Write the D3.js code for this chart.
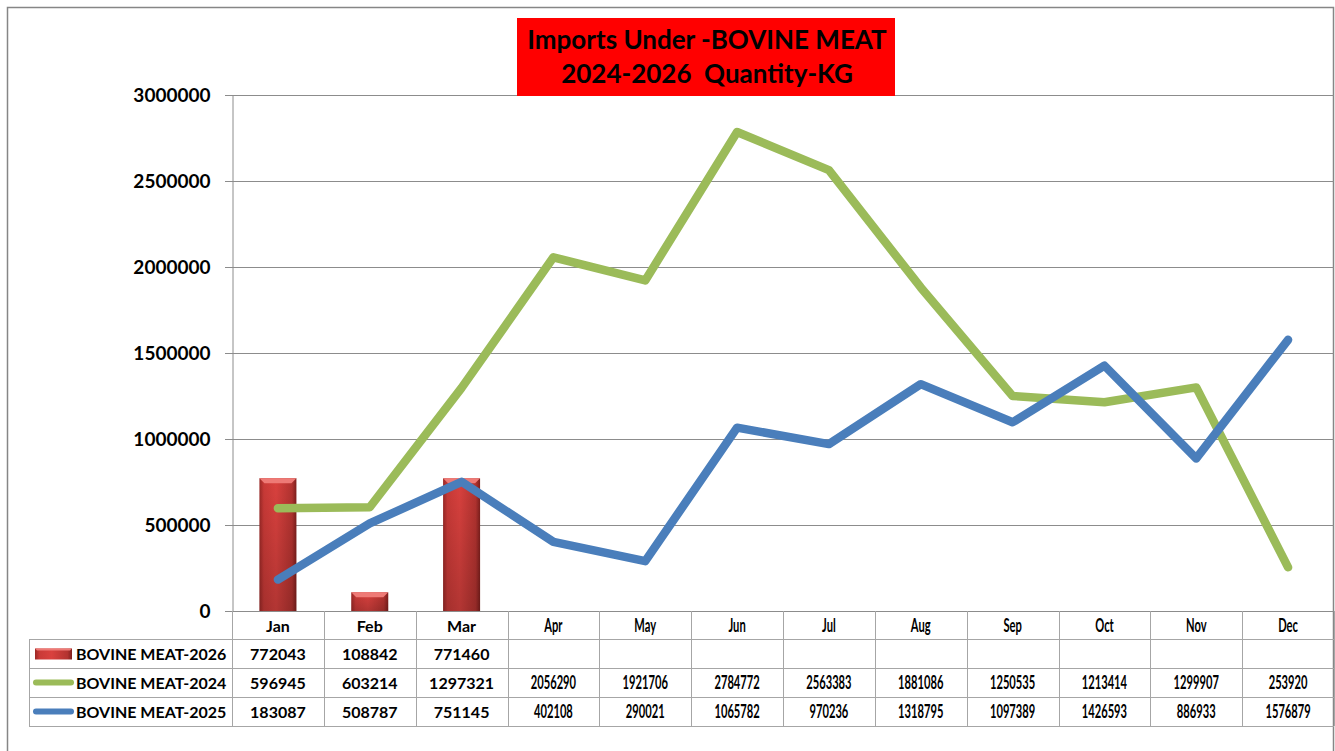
<!DOCTYPE html>
<html>
<head>
<meta charset="utf-8">
<script src="https://cdn.jsdelivr.net/npm/d3@7"></script>
<style>
  body { margin: 0; background: #fff; }
  svg text { font-family: Lato, "Open Sans", sans-serif; }
</style>
</head>
<body>
<script>
// data
const months = ["Jan", "Feb", "Mar", "Apr", "May", "Jun", "Jul", "Aug", "Sep", "Oct", "Nov", "Dec"];
const meat2026 = [772043, 108842, 771460];
const meat2024 = [596945, 603214, 1297321, 2056290, 1921706, 2784772, 2563383, 1881086, 1250535, 1213414, 1299907, 253920];
const meat2025 = [183087, 508787, 751145, 402108, 290021, 1065782, 970236, 1318795, 1097389, 1426593, 886933, 1576879];
const yTicks = [0, 500000, 1000000, 1500000, 2000000, 2500000, 3000000];

const W = 1335, H = 751;
const plot = {left: 232, right: 1334, top: 95, bottom: 611};
const rowH = 29;
const legendLeft = 29;

const svg = d3.select("body").append("svg")
    .attr("width", W)
    .attr("height", H);

// bar gradients
const defs = svg.append("defs");
const grad = defs.append("linearGradient").attr("id", "barGrad")
    .attr("x1", "0").attr("x2", "1").attr("y1", "0").attr("y2", "0");
grad.append("stop").attr("offset", "0").attr("stop-color", "#9a2826");
grad.append("stop").attr("offset", "0.12").attr("stop-color", "#c93a37");
grad.append("stop").attr("offset", "0.45").attr("stop-color", "#d9413e");
grad.append("stop").attr("offset", "0.88").attr("stop-color", "#b33330");
grad.append("stop").attr("offset", "1").attr("stop-color", "#7e1f1d");
const vgrad = defs.append("linearGradient").attr("id", "barShade")
    .attr("x1", "0").attr("x2", "0").attr("y1", "0").attr("y2", "1");
vgrad.append("stop").attr("offset", "0").attr("stop-color", "#000").attr("stop-opacity", 0);
vgrad.append("stop").attr("offset", "1").attr("stop-color", "#000").attr("stop-opacity", 0.18);

// outer border
svg.append("rect")
    .attr("x", 7.5).attr("y", 7.5)
    .attr("width", 1326).attr("height", 760)
    .attr("fill", "none").attr("stroke", "#868686").attr("stroke-width", 1.5);

const x = d3.scaleBand()
    .domain(months)
    .range([plot.left, plot.right])
    .padding(0);

const y = d3.scaleLinear()
    .domain([0, 3000000])
    .range([plot.bottom, plot.top]);

// gridlines
svg.append("g")
    .selectAll("line")
    .data(yTicks)
  .enter().append("line")
    .attr("x1", plot.left - 7).attr("x2", plot.right)
    .attr("y1", d => Math.round(y(d)) + 0.5).attr("y2", d => Math.round(y(d)) + 0.5)
    .attr("stroke", "#8c8c8c").attr("stroke-width", 1);

// y axis
const yAxis = d3.axisLeft(y)
    .tickValues(yTicks)
    .tickFormat(d3.format("d"))
    .tickSize(0)
    .tickPadding(22);

const yg = svg.append("g")
    .attr("transform", `translate(${plot.left + 0.5}, 0.5)`)
    .call(yAxis);
yg.select(".domain").attr("stroke", "#8c8c8c");
yg.selectAll("text")
    .attr("font-size", 19).attr("font-weight", "bold").attr("fill", "#000");

// bars (2026)
const barW = 37;
const bars = svg.append("g").selectAll("g")
    .data(meat2026)
  .enter().append("g");
bars.append("rect")
    .attr("x", (d, i) => x(months[i]) + x.bandwidth() / 2 - barW / 2)
    .attr("y", d => y(d))
    .attr("width", barW)
    .attr("height", d => plot.bottom - y(d))
    .attr("fill", "url(#barGrad)");
bars.append("rect")
    .attr("x", (d, i) => x(months[i]) + x.bandwidth() / 2 - barW / 2)
    .attr("y", d => y(d))
    .attr("width", barW)
    .attr("height", d => plot.bottom - y(d))
    .attr("fill", "url(#barShade)");
// bevel on top
bars.append("path")
    .attr("d", (d, i) => {
      const x0 = x(months[i]) + x.bandwidth() / 2 - barW / 2, y0 = y(d), b = 5;
      return `M${x0},${y0}H${x0 + barW}L${x0 + barW - b},${y0 + b}H${x0 + b}Z`;
    })
    .attr("fill", "#ee7a76");

// lines
const line = d3.line()
    .x((d, i) => x(months[i]) + x.bandwidth() / 2)
    .y(d => y(d));

svg.append("path")
    .datum(meat2024)
    .attr("d", line)
    .attr("fill", "none")
    .attr("stroke", "#9bbb59")
    .attr("stroke-width", 8.5)
    .attr("stroke-linejoin", "round")
    .attr("stroke-linecap", "round");

svg.append("path")
    .datum(meat2025)
    .attr("d", line)
    .attr("fill", "none")
    .attr("stroke", "#4a7ebb")
    .attr("stroke-width", 8.5)
    .attr("stroke-linejoin", "round")
    .attr("stroke-linecap", "round");

// data table
const table = svg.append("g");
const tableBottom = plot.bottom + rowH - 1 + rowH * 3;
const gridColor = "#a6a6a6";

// vertical separators
table.selectAll(".vsep")
    .data(months.concat(["end"]))
  .enter().append("line")
    .attr("x1", (d, i) => Math.round(plot.left + i * x.bandwidth()) + 0.5)
    .attr("x2", (d, i) => Math.round(plot.left + i * x.bandwidth()) + 0.5)
    .attr("y1", plot.bottom)
    .attr("y2", tableBottom)
    .attr("stroke", gridColor);

// horizontal separators
const rowTops = [plot.bottom + rowH - 1, plot.bottom + 2 * rowH - 1, plot.bottom + 3 * rowH - 1, tableBottom];
table.selectAll(".hsep")
    .data(rowTops)
  .enter().append("line")
    .attr("x1", legendLeft).attr("x2", plot.right)
    .attr("y1", d => d + 0.5).attr("y2", d => d + 0.5)
    .attr("stroke", gridColor);
table.append("line")
    .attr("x1", legendLeft + 0.5).attr("x2", legendLeft + 0.5)
    .attr("y1", rowTops[0]).attr("y2", tableBottom)
    .attr("stroke", gridColor);

// cell text; Apr-Dec columns render narrower in the reference
function cellText(sel, rowY) {
  sel.attr("transform", (d, i) => `translate(${x(months[i]) + x.bandwidth() / 2}, ${rowY}) scale(${i < 3 ? 1 : 0.62},1)`)
    .attr("text-anchor", "middle")
    .attr("font-size", (d, i) => (i < 3 ? 16 : 18))
    .attr("font-weight", "bold")
    .attr("fill", "#000");
}

table.append("g").selectAll("text")
    .data(months)
  .enter().append("text")
    .text(d => d)
    .call(cellText, plot.bottom + 21);

const series = [
  {name: "BOVINE MEAT-2026", values: meat2026, color: "#c0504d", type: "bar"},
  {name: "BOVINE MEAT-2024", values: meat2024, color: "#9bbb59", type: "line"},
  {name: "BOVINE MEAT-2025", values: meat2025, color: "#4a7ebb", type: "line"}
];

series.forEach((s, r) => {
  const top = rowTops[r];
  const mid = top + rowH / 2;
  table.append("g").selectAll("text")
      .data(s.values)
    .enter().append("text")
      .text(d => d)
      .call(cellText, mid + 6);

  if (s.type === "bar") {
    table.append("rect")
        .attr("x", 35).attr("y", mid - 5)
        .attr("width", 37).attr("height", 11)
        .attr("fill", "url(#barGrad)");
    table.append("path")
        .attr("d", `M35,${mid - 5}H72L70,${mid - 3}H37Z`)
        .attr("fill", "#ee7a76");
  } else {
    table.append("line")
        .attr("x1", 36).attr("x2", 71)
        .attr("y1", mid).attr("y2", mid)
        .attr("stroke", s.color).attr("stroke-width", 6)
        .attr("stroke-linecap", "round");
  }
  table.append("text")
      .attr("x", 76).attr("y", mid + 6)
      .attr("font-size", 16).attr("font-weight", "bold")
      .text(s.name);
});

// title
const title = svg.append("g");
title.append("rect")
    .attr("x", 517).attr("y", 18)
    .attr("width", 378).attr("height", 78)
    .attr("fill", "#ff0000");
title.selectAll("text")
    .data(["Imports Under -BOVINE MEAT", "2024-2026  Quantity-KG"])
  .enter().append("text")
    .attr("x", 707)
    .attr("y", (d, i) => 49 + i * 34)
    .attr("text-anchor", "middle")
    .attr("font-size", 26)
    .attr("font-weight", "bold")
    .attr("fill", "#000")
    .attr("xml:space", "preserve")
    .style("white-space", "pre")
    .text(d => d);
</script>
</body>
</html>
